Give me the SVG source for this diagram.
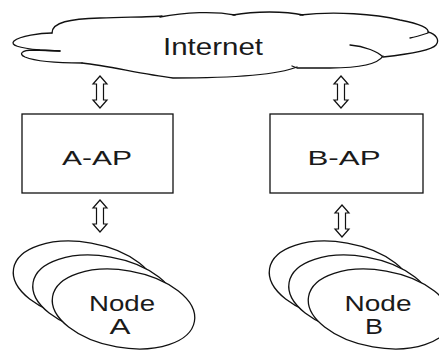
<svg xmlns="http://www.w3.org/2000/svg" width="439" height="353" viewBox="0 0 439 353">
  <style>
    .ln { fill: none; stroke: #111; stroke-width: 1.3; stroke-linecap: round; stroke-linejoin: round; }
    .box { fill: #fff; stroke: #111; stroke-width: 1.3; }
    .ell { fill: #fff; stroke: #111; stroke-width: 1.3; }
    .arr { fill: #fff; stroke: #111; stroke-width: 1.2; stroke-linejoin: miter; }
    .lbl { font-family: "Liberation Sans", Arial, sans-serif; fill: #1a1a1a; text-anchor: middle; }
  </style>
  <defs>
    <!-- hollow double-headed arrow, 32 px long, centred on x=0 -->
    <path id="dbl" class="arr" d="M0,0 L7,8 L3.5,8 L3.5,24 L7,24 L0,32 L-7,24 L-3.5,24 L-3.5,8 L-7,8 Z"/>
    <!-- stack of three overlapping tilted ellipses -->
    <g id="stack">
      <ellipse class="ell" cx="84.5" cy="281" rx="72" ry="38.5" transform="rotate(10 84.5 281)"/>
      <ellipse class="ell" cx="104" cy="295" rx="72" ry="38.5" transform="rotate(10 104 295)"/>
      <ellipse class="ell" cx="123.5" cy="309" rx="72" ry="38.5" transform="rotate(10 123.5 309)"/>
    </g>
  </defs>

  <rect width="439" height="353" fill="#fff"/>

  <!-- Internet cloud -->
  <g id="internet">
    <path class="ln" d="M52,33 C52,22 70,19 100,18 C130,17 150,17 162,16"/>
    <path class="ln" d="M160,17 C185,12 215,11 235,15"/>
    <path class="ln" d="M233,15 C255,11 285,11 303,15"/>
    <path class="ln" d="M300,15 C335,11 375,14 400,20 C420,24 430,28 428,33 C422,35 416,37 410,38"/>
    <path class="ln" d="M428,32 C436,34 440,40 436,45 C432,50 410,54 383,57 C378,52 365,46 350,45"/>
    <path class="ln" d="M383,56 C378,64 360,68 330,68 L297,68 L292,66"/>
    <path class="ln" d="M297,67 C280,74 240,78 173,78 C140,74 110,66 82,63"/>
    <path class="ln" d="M82,63 C60,63 35,61 25,57 C18,54 22,50 33,50 L60,51"/>
    <path class="ln" d="M52,33 C40,33 20,36 14,41 C10,45 18,48 40,50 L60,51"/>
    <text class="lbl" x="213" y="55" font-size="23" textLength="100" lengthAdjust="spacingAndGlyphs">Internet</text>
  </g>

  <!-- access points -->
  <g id="a-ap">
    <rect class="box" x="22" y="114" width="151" height="79"/>
    <text class="lbl" x="97" y="165" font-size="21" textLength="70" lengthAdjust="spacingAndGlyphs">A-AP</text>
  </g>
  <g id="b-ap">
    <rect class="box" x="270" y="114" width="153" height="79"/>
    <text class="lbl" x="344" y="165" font-size="21" textLength="73" lengthAdjust="spacingAndGlyphs">B-AP</text>
  </g>

  <!-- node groups -->
  <g id="node-a">
    <use href="#stack"/>
    <text class="lbl" x="122" y="311" font-size="22" textLength="66" lengthAdjust="spacingAndGlyphs">Node</text>
    <text class="lbl" x="120" y="334" font-size="22" textLength="21" lengthAdjust="spacingAndGlyphs">A</text>
  </g>
  <g id="node-b">
    <use href="#stack" transform="translate(256 0)"/>
    <text class="lbl" x="378" y="311" font-size="22" textLength="67" lengthAdjust="spacingAndGlyphs">Node</text>
    <text class="lbl" x="374" y="334" font-size="22" textLength="18" lengthAdjust="spacingAndGlyphs">B</text>
  </g>

  <!-- connectors -->
  <g id="connectors">
    <use href="#dbl" transform="translate(100 76)"/>
    <use href="#dbl" transform="translate(341 76)"/>
    <use href="#dbl" transform="translate(100 200)"/>
    <use href="#dbl" transform="translate(342 205)"/>
  </g>
</svg>
